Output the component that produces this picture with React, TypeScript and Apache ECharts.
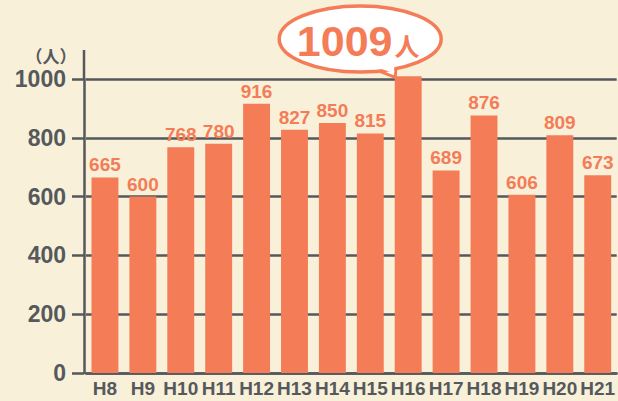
import React, { useEffect, useRef } from "react";
import * as echarts from "echarts";

const categories = ["H8", "H9", "H10", "H11", "H12", "H13", "H14", "H15", "H16", "H17", "H18", "H19", "H20", "H21"];
const values = [665, 600, 768, 780, 916, 827, 850, 815, 1009, 689, 876, 606, 809, 673];
const highlightIndex = 8;
const unitLabel = "（人）";
const unitSuffix = "人";

const BG = "#F8F0D9";
const BAR = "#F47C57";
const GRAY = "#55595C";

export default function App() {
  const ref = useRef<HTMLDivElement>(null);
  useEffect(() => {
    document.body.style.margin = "0";
    const chart = echarts.init(ref.current!, null, { renderer: "svg" });
    const option: any = {
      animation: false,
      backgroundColor: BG,
      grid: { left: 86, right: -3, top: 79, bottom: 28 },
      xAxis: {
        type: "category",
        data: categories,
        axisLine: { show: true, lineStyle: { color: GRAY, width: 2.5 } },
        axisTick: { show: false },
        axisLabel: {
          color: GRAY,
          fontFamily: "'Liberation Sans', Arial, sans-serif",
          fontWeight: "bold",
          fontSize: 19,
          margin: 6,
          interval: 0,
        },
      },
      yAxis: {
        type: "value",
        min: 0,
        max: 1000,
        interval: 200,
        offset: 2,
        axisLine: { show: true, lineStyle: { color: GRAY, width: 2.5 } },
        axisTick: { show: true, length: 12, lineStyle: { color: GRAY, width: 2.5 } },
        splitLine: { show: true, lineStyle: { color: GRAY, width: 2.5 } },
        axisLabel: {
          color: GRAY,
          fontFamily: "'Liberation Sans', Arial, sans-serif",
          fontWeight: "bold",
          fontSize: 23,
          margin: 18,
          formatter: (v: number) => String(v),
        },
      },
      series: [
        {
          type: "bar",
          clip: false,
          barCategoryGap: "29%",
          itemStyle: { color: BAR },
          label: {
            show: true,
            position: "top",
            distance: 3,
            color: BAR,
            fontFamily: "'Liberation Sans', Arial, sans-serif",
            fontWeight: "bold",
            fontSize: 19,
          },
          data: values.map((v, i) => (i === highlightIndex ? { value: v, label: { show: false } } : v)),
        },
      ],
    };
    chart.setOption(option);

    const top = chart.convertToPixel({ gridIndex: 0 }, [0, 1000]) as number[];
    const axisX = 84;
    const barTop = chart.convertToPixel({ seriesIndex: 0 }, [highlightIndex, values[highlightIndex]]) as number[];
    const tipX = barTop[0] - 13;
    const tipY = barTop[1] + 1;
    const cx = tipX - 35;
    const cy = 39;

    chart.setOption({
      graphic: [
        {
          type: "line",
          shape: { x1: axisX, y1: 50, x2: axisX, y2: top[1] },
          style: { stroke: GRAY, lineWidth: 2.5 },
          z: 10,
        },
        {
          type: "text",
          x: 51,
          y: 55,
          style: {
            text: unitLabel,
            fill: GRAY,
            font: "bold 17px 'Noto Sans CJK JP', sans-serif",
            align: "center",
            verticalAlign: "middle",
          },
        },
        {
          type: "polygon",
          shape: { points: [[tipX - 18, tipY - 7], [tipX + 1, tipY - 14], [tipX, tipY]] },
          style: { fill: "#fff", stroke: BAR, lineWidth: 3 },
          z: 20,
        },
        {
          type: "ellipse",
          shape: { cx, cy, rx: 81, ry: 33 },
          style: { fill: "#fff", stroke: BAR, lineWidth: 3.5 },
          z: 21,
        },
        {
          type: "polygon",
          shape: { points: [[tipX - 16, tipY - 9], [tipX - 1, tipY - 15], [tipX - 1, tipY - 4]] },
          style: { fill: "#fff" },
          z: 22,
        },
        {
          type: "text",
          x: cx - 2,
          y: cy + 2,
          z: 23,
          style: {
            text: "{a|" + values[highlightIndex] + "}{b|" + unitSuffix + "}",
            align: "center",
            verticalAlign: "middle",
            rich: {
              a: { fill: BAR, fontSize: 43, fontWeight: "bold", fontFamily: "'Liberation Sans', Arial, sans-serif", color: BAR },
              b: { fill: BAR, fontSize: 25, fontWeight: "bold", fontFamily: "'Noto Sans CJK JP', sans-serif", color: BAR, padding: [8, 0, 0, 2] },
            },
          },
        },
      ],
    });
    return () => chart.dispose();
  }, []);
  return <div ref={ref} style={{ position: "absolute", left: 0, top: 0, width: 618, height: 401 }} />;
}
